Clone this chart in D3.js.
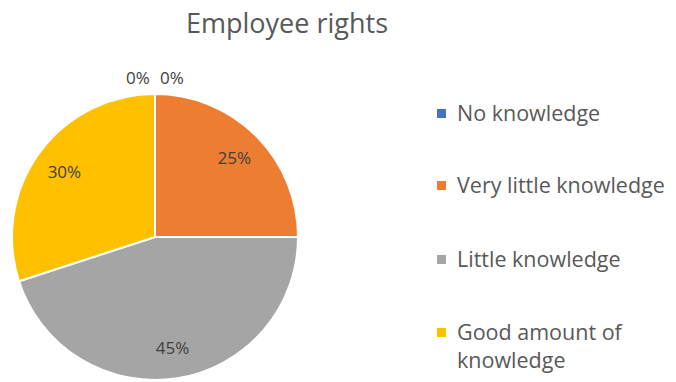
<!DOCTYPE html>
<html>
<head>
<meta charset="utf-8">
<script src="https://cdn.jsdelivr.net/npm/d3@7"></script>
<style>
  html, body { margin: 0; padding: 0; background: #ffffff; }
  svg { display: block; }
</style>
</head>
<body>
<svg id="chart" width="676" height="382"></svg>
<script>
// Survey answers: knowledge of employee rights
const categories = ["No knowledge", "Very little knowledge", "Little knowledge", "Good amount of knowledge", "Excellent knowledge"];
const shares = [0, 25, 45, 30, 0];
const colors = ["#4472C4", "#ED7D31", "#A5A5A5", "#FFC000", "#5B9BD5"];
const chartTitle = "Employee rights";

const width = 676, height = 382;
const cx = 155, cy = 237, radius = 143;
const fontFamily = "'Open Sans', 'DejaVu Sans', sans-serif";

const svg = d3.select("#chart");

svg.append("text")
  .attr("x", 287)
  .attr("y", 33)
  .attr("text-anchor", "middle")
  .attr("font-family", fontFamily)
  .attr("font-size", 27)
  .attr("fill", "#595959")
  .text(chartTitle);

const data = categories.map((c, i) => ({ category: c, value: shares[i], color: colors[i] }));

const pie = d3.pie().sort(null).value(d => d.value);
const arcs = pie(data);
const arc = d3.arc().innerRadius(0).outerRadius(radius);
const labelArc = d3.arc().innerRadius(112).outerRadius(112);

const g = svg.append("g").attr("transform", `translate(${cx},${cy})`);

g.selectAll("path.slice")
  .data(arcs.filter(d => d.value > 0))
  .join("path")
  .attr("class", "slice")
  .attr("d", arc)
  .attr("fill", d => d.data.color)
  .attr("stroke", "#ffffff")
  .attr("stroke-width", 2)
  .attr("stroke-linejoin", "round");

// Percent labels: inside for visible slices, just above the rim for empty ones
g.selectAll("text.pct")
  .data(arcs)
  .join("text")
  .attr("class", "pct")
  .attr("font-family", fontFamily)
  .attr("font-size", 17)
  .attr("fill", "#404040")
  .attr("text-anchor", "middle")
  .attr("dominant-baseline", "central")
  .attr("transform", d => {
    if (d.value > 0) {
      const [x, y] = labelArc.centroid(d);
      return `translate(${x},${y})`;
    }
    const side = d.startAngle < Math.PI ? 1 : -1;
    return `translate(${side * 17},${-radius - 17})`;
  })
  .text(d => d.data.value + "%");

// Legend: only as many entries as the panel has room for
const legend = svg.append("g").attr("transform", "translate(437,0)");
const legendBaseline = [121, 193, 267, 340];
const lineGap = 28;

data.slice(0, legendBaseline.length).forEach((d, i) => {
  const item = legend.append("g").attr("transform", `translate(0,${legendBaseline[i]})`);
  item.append("rect")
    .attr("x", 0).attr("y", -12)
    .attr("width", 9).attr("height", 9)
    .attr("fill", d.color);
  const words = d.category === "Good amount of knowledge"
    ? ["Good amount of", "knowledge"] : [d.category];
  const t = item.append("text")
    .attr("font-family", fontFamily)
    .attr("font-size", 21.5)
    .attr("fill", "#595959");
  words.forEach((w, j) => {
    t.append("tspan")
      .attr("x", 20)
      .attr("y", j * lineGap)
      .text(w);
  });
});
</script>
</body>
</html>
